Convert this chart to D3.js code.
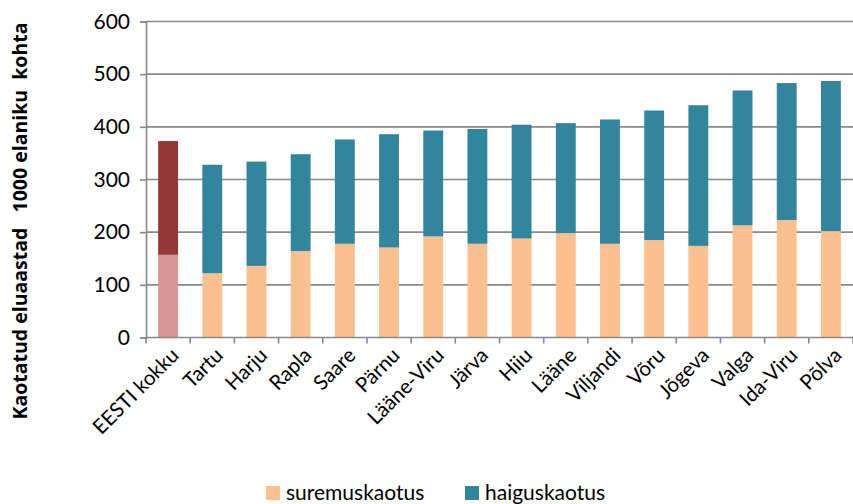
<!DOCTYPE html>
<html>
<head>
<meta charset="utf-8">
<script src="https://cdn.jsdelivr.net/npm/d3@7"></script>
<style>
  body { margin: 0; background: #fff; }
  text { font-family: Lato, "Open Sans", sans-serif; fill: #000; }
</style>
</head>
<body>
<svg id="chart"></svg>
<script>
// county names
var categories = ['EESTI kokku', 'Tartu', 'Harju', 'Rapla', 'Saare', 'Pärnu', 'Lääne-Viru', 'Järva',
    'Hiiu', 'Lääne', 'Viljandi', 'Võru', 'Jõgeva', 'Valga', 'Ida-Viru', 'Põlva'];
// lost life years per 1000 inhabitants
var suremuskaotus = [157, 122, 136, 164, 178, 171, 192, 178, 188, 198, 178, 185, 174, 213, 223, 202];
var haiguskaotus  = [216, 206, 198, 184, 198, 215, 201, 218, 216, 209, 236, 246, 267, 256, 260, 285];
var yTicks = [0, 100, 200, 300, 400, 500, 600];
var seriesNames = ['suremuskaotus', 'haiguskaotus'];

var width = 853, height = 504;
var margin = {left: 146, right: 0, top: 21.5, bottom: 166.5};

var svg = d3.select('#chart')
    .attr('width', width)
    .attr('height', height);

var x = d3.scaleBand()
    .domain(categories)
    .range([margin.left, width - margin.right])
    .paddingInner(0.55)
    .paddingOuter(0.275);

var y = d3.scaleLinear()
    .domain([0, 600])
    .range([height - margin.bottom, margin.top]);

var colors = {
    suremuskaotus: '#FAC090',
    haiguskaotus: '#31859C'
};
var totalColors = {
    suremuskaotus: '#D99694',
    haiguskaotus: '#953735'
};

// gridlines
svg.append('g')
    .selectAll('line')
    .data(yTicks.slice(1))
    .enter().append('line')
    .attr('x1', margin.left)
    .attr('x2', width - margin.right)
    .attr('y1', function(d) { return y(d); })
    .attr('y2', function(d) { return y(d); })
    .attr('stroke', '#888')
    .attr('stroke-width', 1.6);

var rows = categories.map(function(c, i) {
    return {name: c, suremuskaotus: suremuskaotus[i], haiguskaotus: haiguskaotus[i]};
});
var stacked = d3.stack().keys(seriesNames)(rows);

var layer = svg.append('g')
    .selectAll('g')
    .data(stacked)
    .enter().append('g');

layer.selectAll('rect')
    .data(function(s) { return s.map(function(d) { d.key = s.key; return d; }); })
    .enter().append('rect')
    .attr('x', function(d) { return x(d.data.name); })
    .attr('width', x.bandwidth())
    .attr('y', function(d) { return y(d[1]); })
    .attr('height', function(d) { return y(d[0]) - y(d[1]); })
    .attr('fill', function(d) {
        if (d.data.name == 'EESTI kokku')
            return totalColors[d.key];
        return colors[d.key];
    });

// y axis
var yAxis = svg.append('g')
    .attr('transform', 'translate(' + margin.left + ',0)')
    .call(d3.axisLeft(y).tickValues(yTicks).tickSize(6).tickPadding(10));
yAxis.select('.domain').attr('stroke', '#888').attr('stroke-width', 1.6);
yAxis.selectAll('.tick line').attr('stroke', '#888').attr('stroke-width', 1.6);
yAxis.selectAll('.tick text')
    .style('font-family', 'Lato, sans-serif')
    .style('font-size', '21px')
    .attr('fill', '#000');

// x axis: ticks sit between categories
var step = x.step();
var bounds = d3.range(categories.length + 1).map(function(i) { return margin.left + i * step; });
svg.append('line')
    .attr('x1', margin.left)
    .attr('x2', width)
    .attr('y1', y(0))
    .attr('y2', y(0))
    .attr('stroke', '#888')
    .attr('stroke-width', 1.6);
svg.append('g')
    .selectAll('line')
    .data(bounds)
    .enter().append('line')
    .attr('x1', function(d) { return d; })
    .attr('x2', function(d) { return d; })
    .attr('y1', y(0))
    .attr('y2', y(0) + 6)
    .attr('stroke', '#888')
    .attr('stroke-width', 1.6);

svg.append('g')
    .selectAll('text')
    .data(categories)
    .enter().append('text')
    .attr('transform', function(d) {
        return 'translate(' + (x(d) + x.bandwidth() / 2 + 7) + ',' + (y(0) + 14) + ') rotate(-45)';
    })
    .attr('text-anchor', 'end')
    .attr('dy', '0.35em')
    .style('font-size', '20.5px')
    .text(function(d) { return d; });

// y axis title
svg.append('text')
    .attr('transform', 'translate(27,221) rotate(-90)')
    .attr('text-anchor', 'middle')
    .style('font-family', '"Open Sans", sans-serif')
    .style('font-weight', 'bold')
    .style('font-size', '19.5px')
    .style('white-space', 'pre')
    .text('Kaotatud eluaastad   1000 elaniku  kohta');

// legend
var legendX = [266, 465];
var legend = svg.append('g')
    .selectAll('g')
    .data(seriesNames)
    .enter().append('g')
    .attr('transform', function(d, i) { return 'translate(' + legendX[i] + ',486)'; });
legend.append('rect')
    .attr('width', 14)
    .attr('height', 14)
    .attr('fill', function(d) { return colors[d]; });
legend.append('text')
    .attr('x', 20)
    .attr('y', 14)
    .style('font-size', '21px')
    .text(function(d) { return d; });
</script>
</body>
</html>
